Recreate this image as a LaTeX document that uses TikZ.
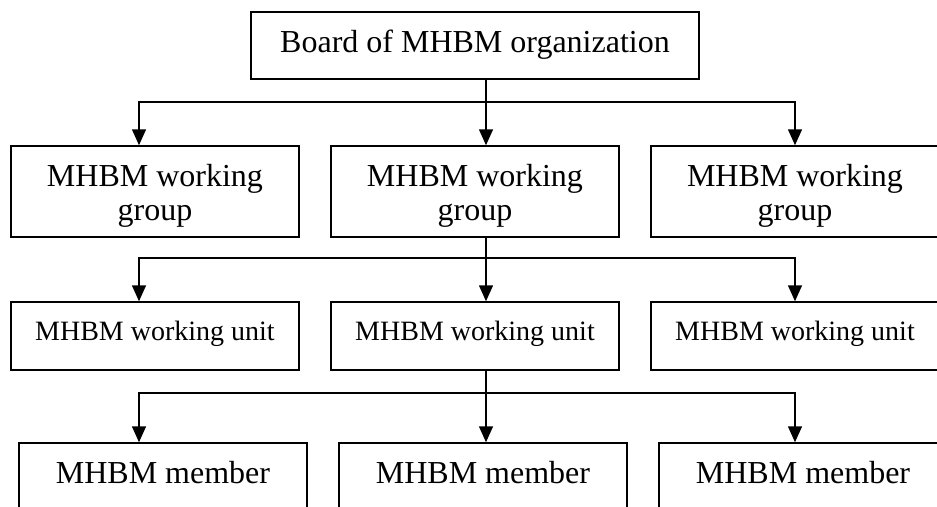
\documentclass[tikz,border=0pt]{standalone}
\usepackage{fontspec}
\setmainfont{Liberation Serif}
\usetikzlibrary{arrows.meta}
\begin{document}
\begin{tikzpicture}[x=1pt,y=-1pt,
  box/.style={draw=black,line width=1.5pt,inner sep=0pt,minimum width=288pt,fill=none},
  txt/.style={inner sep=0pt,anchor=base},
  conn/.style={draw=black,line width=1.5pt},
  tip/.style={-{Triangle[width=14pt,length=16pt]}},
  tips/.style={{Triangle[width=14pt,length=16pt]}-{Triangle[width=14pt,length=16pt]}}]
\useasboundingbox[fill=white] (0,0) rectangle (937,506);
\clip (0,0) rectangle (937,506);
% boxes
\node[box,minimum width=448pt,minimum height=67pt] (b0) at (475,45.5) {};
\node[box,minimum height=91pt] (g1) at (155,191.5) {};
\node[box,minimum height=91pt] (g2) at (475,191.5) {};
\node[box,minimum height=91pt] (g3) at (795,191.5) {};
\node[box,minimum height=68pt] (u1) at (155,336) {};
\node[box,minimum height=68pt] (u2) at (475,336) {};
\node[box,minimum height=68pt] (u3) at (795,336) {};
\node[box,minimum height=74pt] (m1) at (163,480) {};
\node[box,minimum height=74pt] (m2) at (483,480) {};
\node[box,minimum height=74pt] (m3) at (803,480) {};
% texts
\node[txt,font=\fontsize{32}{36}\selectfont] (t0) at (475,52) {Board of MHBM organization};
\foreach \n/\x in {1/155,2/475,3/795}{
  \node[txt,font=\fontsize{32}{36}\selectfont] (ga\n) at (\x,186) {MHBM working};
  \node[txt,font=\fontsize{32}{36}\selectfont] (gb\n) at (\x,220) {group};
  \node[txt,font=\fontsize{28}{32}\selectfont] (ut\n) at (\x,340) {MHBM working unit};
}
\foreach \n/\x in {1/163,2/483,3/803}{
  \node[txt,font=\fontsize{32}{36}\selectfont] (mt\n) at (\x,483) {MHBM member};
}
% junction coordinates
\coordinate (j1l) at (139,102);
\coordinate (j1c) at (486,102);
\coordinate (j1r) at (795,102);
\coordinate (j2l) at (139,258);
\coordinate (j2c) at (486,258);
\coordinate (j2r) at (795,258);
\coordinate (j3l) at (139,393);
\coordinate (j3c) at (486,393);
\coordinate (j3r) at (795,393);
% level 1
\draw[conn,tips] (j1l |- g1.north) |- (j1r) -- (j1r |- g3.north);
\draw[conn,tip] (j1c |- b0.south) -- (j1c |- g2.north);
% level 2
\draw[conn,tips] (j2l |- u1.north) |- (j2r) -- (j2r |- u3.north);
\draw[conn,tip] (j2c |- g2.south) -- (j2c |- u2.north);
% level 3
\draw[conn,tips] (j3l |- m1.north) |- (j3r) -- (j3r |- m3.north);
\draw[conn,tip] (j3c |- u2.south) -- (j3c |- m2.north);
\end{tikzpicture}
\end{document}
